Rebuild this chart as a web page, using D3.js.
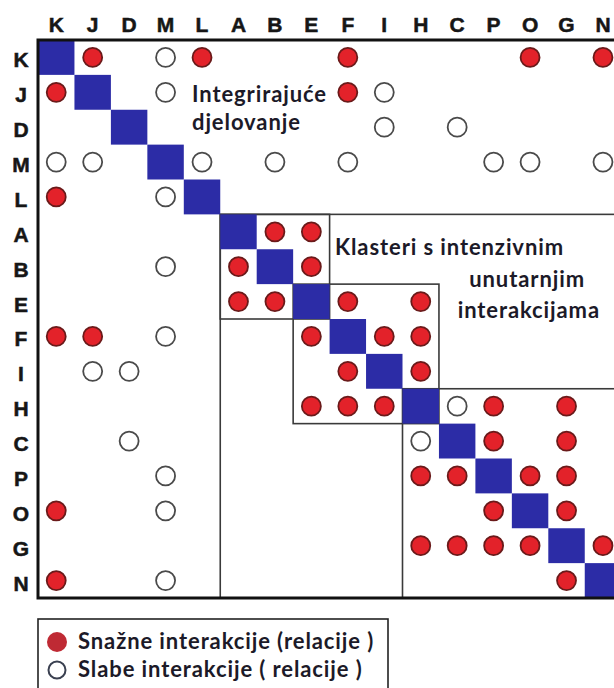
<!DOCTYPE html>
<html>
<head>
<meta charset="utf-8">
<script src="https://cdn.jsdelivr.net/npm/d3@7"></script>
<style>
  html, body { margin: 0; padding: 0; background: #fff; }
  svg { display: block; }
  .axis-label { font-family: "Liberation Sans", Arial, sans-serif; font-weight: bold; font-size: 21px; fill: #161616; stroke: #161616; stroke-width: 0.5px; }
  .note { font-family: Lato, "Open Sans", sans-serif; font-weight: 700; font-size: 22px; letter-spacing: 0.9px; fill: #1c1a28; }
</style>
</head>
<body>
<svg id="chart" width="614" height="688"></svg>
<script>
// node order of the matrix (same for rows and columns)
const nodes = ['K', 'J', 'D', 'M', 'L', 'A', 'B', 'E', 'F', 'I', 'H', 'C', 'P', 'O', 'G', 'N']

// [row, column] pairs
const strongLinks = [
  ['K', 'J'], ['K', 'L'], ['K', 'F'], ['K', 'O'], ['K', 'N'],
  ['J', 'K'], ['J', 'F'],
  ['L', 'K'],
  ['A', 'B'], ['A', 'E'],
  ['B', 'A'], ['B', 'E'],
  ['E', 'A'], ['E', 'B'], ['E', 'F'], ['E', 'H'],
  ['F', 'K'], ['F', 'J'], ['F', 'E'], ['F', 'I'], ['F', 'H'],
  ['I', 'F'], ['I', 'H'],
  ['H', 'E'], ['H', 'F'], ['H', 'I'], ['H', 'P'], ['H', 'G'],
  ['C', 'P'], ['C', 'G'],
  ['P', 'H'], ['P', 'C'], ['P', 'O'], ['P', 'G'],
  ['O', 'K'], ['O', 'P'], ['O', 'G'],
  ['G', 'H'], ['G', 'C'], ['G', 'P'], ['G', 'O'], ['G', 'N'],
  ['N', 'K'], ['N', 'G']
]

const weakLinks = [
  ['K', 'M'],
  ['J', 'M'], ['J', 'I'],
  ['D', 'I'], ['D', 'C'],
  ['M', 'K'], ['M', 'J'], ['M', 'L'], ['M', 'B'], ['M', 'F'], ['M', 'P'], ['M', 'O'], ['M', 'N'],
  ['L', 'M'],
  ['B', 'M'],
  ['F', 'M'],
  ['I', 'J'], ['I', 'D'],
  ['H', 'C'],
  ['C', 'D'], ['C', 'H'],
  ['P', 'M'],
  ['O', 'M'],
  ['N', 'M']
]

// cluster frames, first and last node of each block
const clusters = [['A', 'N'], ['A', 'E'], ['E', 'H'], ['H', 'N']]

const notes = [
  { lines: ['Integrirajuće', 'djelovanje'], x: 192, y: 102, anchor: 'start' },
  { lines: ['Klasteri s intenzivnim'], x: 335, y: 255, anchor: 'start' },
  { lines: ['unutarnjim'], x: 585, y: 287, anchor: 'end' },
  { lines: ['interakcijama'], x: 600, y: 318, anchor: 'end' }
]

const legendItems = ['Snažne interakcije (relacije )', 'Slabe interakcije ( relacije )']

class Matrix {
  constructor (element) {
    this.element = element
    this.x = d3.scaleBand().domain(nodes).range([38, 38 + 16 * 36.45])
    this.y = d3.scaleBand().domain(nodes).range([40, 598])
  }

  _cx = ([, col]) => this.x(col) + this.x.bandwidth() / 2
  _cy = ([row]) => this.y(row) + this.y.bandwidth() / 2

  _frame (g, [from, to]) {
    g.append('rect')
      .attr('x', this.x(from))
      .attr('y', this.y(from))
      .attr('width', this.x(to) + this.x.bandwidth() - this.x(from))
      .attr('height', this.y(to) + this.y.bandwidth() - this.y(from))
      .attr('fill', 'none')
  }

  render () {
    const svg = d3.select(this.element)
    svg.selectAll('*').remove()

    // column and row labels
    svg.append('g').selectAll('text')
      .data(nodes)
      .enter()
      .append('text')
      .attr('class', 'axis-label')
      .attr('x', d => this.x(d) + this.x.bandwidth() / 2)
      .attr('y', 32)
      .attr('text-anchor', 'middle')
      .text(d => d)

    svg.append('g').selectAll('text')
      .data(nodes)
      .enter()
      .append('text')
      .attr('class', 'axis-label')
      .attr('x', 21)
      .attr('y', d => this.y(d) + this.y.bandwidth() / 2 + 10)
      .attr('text-anchor', 'middle')
      .text(d => d)

    // cluster lines
    const lines = svg.append('g')
      .attr('stroke', '#3a3a3a')
      .attr('stroke-width', 1.6)
    clusters.forEach(c => this._frame(lines, c))

    // diagonal
    svg.append('g').selectAll('rect')
      .data(nodes)
      .enter()
      .append('rect')
      .attr('x', d => this.x(d))
      .attr('y', d => this.y(d))
      .attr('width', this.x.bandwidth())
      .attr('height', this.y.bandwidth())
      .attr('fill', '#2c2ca6')

    // outer frame
    const outer = svg.append('g')
      .attr('stroke', '#111')
      .attr('stroke-width', 3)
    this._frame(outer, [nodes[0], nodes[nodes.length - 1]])

    svg.append('g').selectAll('circle')
      .data(weakLinks)
      .enter()
      .append('circle')
      .attr('cx', this._cx)
      .attr('cy', this._cy)
      .attr('r', 9.5)
      .attr('fill', '#fff')
      .attr('stroke', '#4a4a4a')
      .attr('stroke-width', 1.8)

    svg.append('g').selectAll('circle')
      .data(strongLinks)
      .enter()
      .append('circle')
      .attr('cx', this._cx)
      .attr('cy', this._cy)
      .attr('r', 9.5)
      .attr('fill', '#e3222a')
      .attr('stroke', '#6a1a1a')
      .attr('stroke-width', 1.8)

    // annotations
    notes.forEach(n => {
      const t = svg.append('text')
        .attr('class', 'note')
        .attr('x', n.x)
        .attr('y', n.y)
        .attr('text-anchor', n.anchor)
      n.lines.forEach((line, i) => {
        t.append('tspan')
          .attr('x', n.x)
          .attr('dy', i ? 28 : 0)
          .text(line)
      })
    })

    // legend
    const legend = svg.append('g')
    legend.append('rect')
      .attr('x', 38)
      .attr('y', 619)
      .attr('width', 350)
      .attr('height', 90)
      .attr('fill', '#fff')
      .attr('stroke', '#222')
      .attr('stroke-width', 1.6)

    const items = legend.selectAll('g.item')
      .data(legendItems)
      .enter()
      .append('g')
      .attr('class', 'item')
      .attr('transform', (d, i) => `translate(0, ${642 + i * 28})`)

    items.append('circle')
      .attr('cx', 57)
      .attr('cy', 0)
      .attr('r', (d, i) => i ? 8.5 : 10)
      .attr('fill', (d, i) => i ? '#fff' : '#bf2a34')
      .attr('stroke', (d, i) => i ? '#3a4050' : 'none')
      .attr('stroke-width', 2)

    items.append('text')
      .attr('class', 'note')
      .attr('x', 78)
      .attr('y', 7)
      .text(d => d)
  }
}

new Matrix(document.getElementById('chart')).render()
</script>
</body>
</html>
